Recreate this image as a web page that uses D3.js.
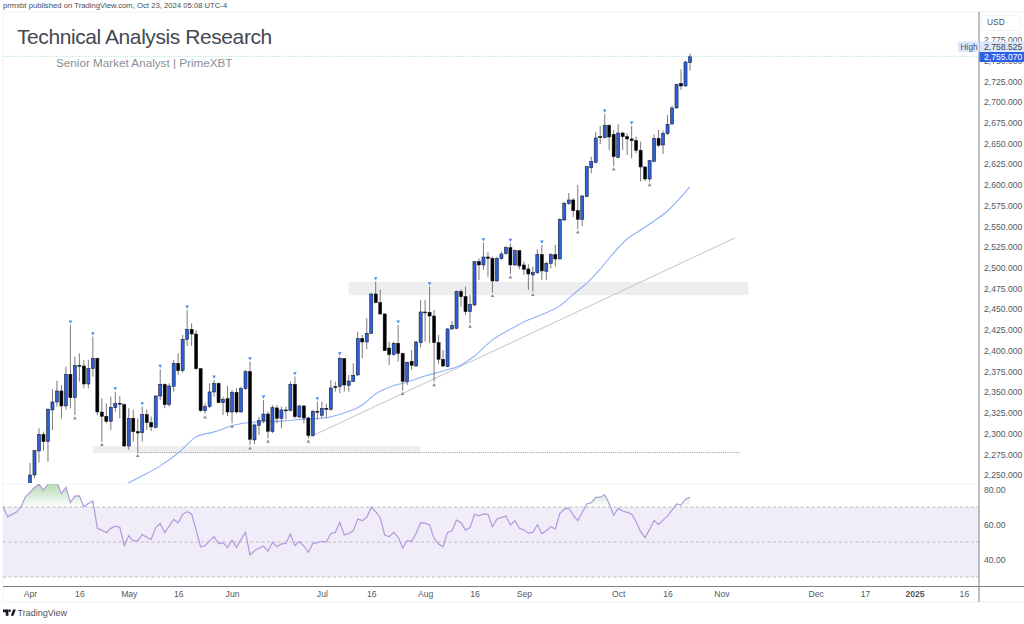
<!DOCTYPE html>
<html>
<head>
<meta charset="utf-8">
<title>Technical Analysis Research</title>
<script src="https://cdn.jsdelivr.net/npm/d3@7/dist/d3.min.js"></script>
<style>
  html, body { margin: 0; padding: 0; background: #fff; }
  svg { display: block; }
  text { font-family: "Liberation Sans", Arial, sans-serif; }
</style>
</head>
<body>
<svg id="chart" width="1024" height="624"></svg>
<script>
// Daily candles, one entry per trading day, bar 0 = 1 Apr 2024.
const opens = [2238,2250,2279,2299,2290.3,2328.5,2338.1,2351.4,2333.3,2371.5,2343.3,2382.3,2381.5,2359.8,2378.3,2390.8,2326,2320.8,2314.8,2331.2,2336.5,2334.9,2285,2318.4,2302.3,2301.1,2322.8,2313.2,2307.5,2345.3,2359.4,2334.9,2357,2384.7,2375.9,2413.7,2425.8,2420.1,2378.3,2327.6,2332.5,2350.2,2360.6,2337.3,2342.1,2326,2349.8,2326,2354.2,2374.7,2292.3,2310,2315.2,2323.6,2302.3,2330.9,2318.4,2328.5,2328.1,2359.4,2320,2333.3,2318.8,2297.5,2326.8,2322,2330.5,2328.9,2356.6,2356.6,2390.4,2358.2,2363,2370.7,2414.5,2410.5,2421,2468.4,2457.9,2444.3,2403.2,2395.6,2408.9,2396.8,2363,2387.2,2381.5,2409.7,2446.7,2446.3,2441.8,2409.7,2389.6,2380.7,2426.2,2427,2471.2,2465.2,2447.1,2455.1,2507.4,2503.4,2513,2511.4,2484.1,2511,2517.1,2524.3,2503.4,2520.7,2503.4,2498.6,2491.3,2494.1,2515.9,2495.7,2505.4,2515.9,2510.6,2557.7,2577.8,2581.8,2568.9,2558.5,2585.8,2620.8,2627.2,2658.2,2657,2671.9,2661,2633.3,2662.6,2658.2,2655.4,2653.4,2641.7,2621.6,2607.1,2628.4,2656.2,2648.1,2661.8,2673.5,2692.8,2722.5,2719.3,2747.5];
const highs = [2264.5,2280,2306.3,2302.3,2330.5,2353.4,2363.8,2358.6,2380.7,2431,2392.8,2396.8,2388.8,2388.8,2416.9,2391.6,2342.5,2336.5,2344.5,2350.6,2345.3,2336.5,2330.5,2328.5,2318.4,2332.5,2328.5,2320.4,2346.5,2377.5,2360.6,2360.6,2388.8,2396.8,2418.9,2449.1,2433,2425,2378.7,2336.5,2360.6,2364.6,2361.4,2344.5,2357.4,2352.6,2354.6,2356.6,2376.7,2386.8,2312.4,2320.4,2340.5,2326.4,2334.5,2334.5,2332.5,2332.5,2362.6,2368.7,2334.5,2334.5,2320.4,2328.5,2338.5,2338.5,2335.7,2364.6,2362.6,2392.8,2390.8,2370.7,2384.7,2423,2418.9,2439,2469.2,2483.3,2474,2445,2410.9,2410.9,2431,2397.6,2386.8,2400.8,2411.7,2461.1,2461.1,2477.2,2449.1,2418.9,2400.8,2427,2435.8,2472.4,2474,2477.2,2467.2,2508.2,2511.4,2530.3,2518.7,2513.4,2513.4,2519.5,2526.3,2529.5,2522.3,2521.5,2507.4,2504.2,2501.4,2522.3,2527.5,2507.4,2517.5,2527.5,2559.7,2579.8,2590.2,2584.2,2599.9,2587.8,2622.8,2634,2664.2,2671,2685.5,2673.1,2666.2,2673.1,2664.2,2662.2,2671,2658.2,2652.2,2622.8,2630,2661,2666.2,2665.4,2684.3,2695.2,2722.1,2739.4,2749.5,2758.525];
const lows = [2230,2246,2264.9,2279.4,2266.1,2304.3,2332.5,2318.4,2328.5,2330.5,2322.4,2362.6,2354.6,2354.6,2368.7,2322.4,2290.3,2312.4,2304.3,2326.4,2318.4,2284.2,2280.2,2290.3,2277,2290.3,2304.3,2303.1,2306.3,2340.5,2330.5,2332.5,2350.6,2370.7,2373.5,2405.7,2405.7,2376.7,2326.4,2323.6,2330.5,2344.5,2336.5,2322.4,2321.2,2312.4,2324.4,2325.2,2352.6,2286.2,2287,2298.3,2312.4,2294.3,2300.3,2312.4,2306.3,2317.2,2326.4,2318.4,2318.4,2312.4,2294.3,2296.3,2316.4,2318.4,2318.4,2327.6,2350.6,2348.6,2350.6,2350.6,2362.6,2369.5,2390.8,2401.6,2420.1,2457.1,2443.1,2400,2382.7,2393.6,2386.8,2351.8,2358.6,2376.7,2380.7,2404.1,2410.9,2408.9,2362.6,2383.9,2380,2380,2424.9,2426.2,2453.1,2443.1,2433,2453.9,2485.3,2497.4,2489.3,2470,2483.3,2509.4,2515.5,2492.5,2502.2,2498.2,2491.3,2473.2,2471.2,2492.5,2485.3,2485.3,2499.4,2501.4,2510.2,2556.5,2575.7,2561.3,2546.8,2550.4,2585,2614,2626,2649.3,2656.2,2642.1,2622.8,2632,2642.1,2636,2632,2638.1,2603.9,2604.7,2603.9,2627.2,2646.1,2637.3,2660.2,2672.3,2692,2714.5,2718.5,2737.8];
const closes = [2250,2279.3,2299.1,2290.3,2329.3,2338.1,2351.4,2333.3,2371.5,2343.3,2382.3,2381.5,2359.8,2378.3,2390.8,2326,2320.8,2314.8,2331.7,2336.5,2335.7,2285,2318.4,2302.3,2300.7,2322.8,2313.2,2308,2345.3,2359.4,2334.9,2357.4,2384.7,2375.9,2413.7,2425.8,2420.1,2378.3,2327.6,2332.5,2350.2,2360.6,2337.3,2341.3,2326,2349.8,2326,2354.2,2374.7,2293.1,2310.4,2315.6,2323.6,2302.7,2331.3,2318.4,2328.5,2327.7,2359.4,2320.4,2333.3,2318.8,2297.5,2326.8,2326,2330.5,2329.3,2355,2355.4,2390.8,2358.6,2363.4,2370.3,2414.5,2410.5,2421,2468.4,2457.9,2444.3,2400,2395.2,2408.9,2396.8,2363,2386,2382.3,2410.5,2446.7,2445.9,2441.8,2409.7,2389.6,2381.5,2426.2,2430.6,2471.2,2465.2,2447.1,2455.9,2507.4,2503.4,2513,2511.4,2484.1,2511.4,2516.7,2524.3,2503.4,2520.7,2502.2,2498.2,2492.5,2494.5,2515.9,2496.2,2505.4,2515.9,2510.6,2558.5,2577.8,2581.8,2568.9,2558.5,2586.6,2622,2628,2656.6,2657,2671.9,2657.8,2634,2662.6,2658.2,2655.4,2653.4,2641.7,2621.6,2607.1,2629.2,2656.2,2647.7,2662.2,2673.1,2692.8,2721.3,2719.3,2748.3,2755.07];

// Pivot flags drawn above highs and below lows, by bar number.
const pivotHighBars = [9,14,19,25,29,35,41,49,52,59,64,69,77,82,89,101,107,114,128,134];
const pivotLowBars = [10,16,24,39,45,49,53,62,83,90,98,103,107,112,122,130,138];

// Moving average, sampled at the listed bars.
const maBars = [21,25,29,33,37,41,46,50,56,60,66,70,74,77,80,84,88,92,96,99,103,107,110,114,118,121,124,127,130,133,136,139,142,145,147];
const maValues = [2238,2249,2261,2276.5,2296,2302,2311,2314,2315,2317,2319,2325,2334.5,2348,2356,2362,2369.5,2375.5,2382.7,2393.6,2413,2426,2434.6,2443.6,2454,2468,2481.6,2498.5,2518,2534.7,2545.6,2556.4,2568.5,2585.4,2598];

// RSI starts six bars before the first visible candle.
const rsiFirstBar = -6;
const rsiValues = [70.1,64.4,65.8,67.1,70.1,75.8,78.3,81.2,83,79.6,83,84,84,77.7,81.2,72.6,76.2,76.4,70.1,72,73.4,57.8,56.8,55.3,57.8,59.1,58.4,47.9,53.6,50.6,50.6,54.3,52.7,51.5,58.2,60.6,55.3,59.1,62.9,61,65.8,67.3,66,56.8,47.3,47.9,50.8,53,48.9,49.6,46.8,51.1,47,51.5,55.5,42.6,45,46.4,47.7,44.7,49.8,47.3,48.9,49.2,54.6,47.9,50.2,47.7,44.1,49.2,49.6,50.4,50,54.9,55.5,61.2,54,54.9,56.4,63.1,62.2,64,69.8,67.3,63.9,54,53,55.5,52.7,46.6,50.8,50.4,54.9,61,60.8,59.7,52.1,48.9,47.3,55.5,56.4,62.5,61,56.8,58.2,65.8,65,66.1,65.8,58.7,63.1,63.9,64.8,59.7,62.2,57.8,56.8,55.1,55.5,59.9,54.8,56.4,58.7,57.4,66.3,68.8,69.4,65.4,62.2,66.9,71.7,72.4,75.5,75.6,77,72,65.2,69.2,67.7,66.9,66,61.6,55.9,52.5,57.2,62.3,60,62.5,64.8,68.2,71.7,71.1,74.5,75.5];

// Drawn levels: supply/demand zones, dotted support and rising trend line.
const zoneBars = [[14,87],[71,160]];
const zonePrices = [[2285,2276.5],[2483,2467]];
const supportBars = [24,158];
const supportPrice = 2277;
const trendBars = [62.4,157];
const trendPrices = [2296,2536];

const lastClose = 2755.07;
const sessionHigh = 2758.525;

const priceTicks = [2250,2275,2300,2325,2350,2375,2400,2425,2450,2475,2500,2525,2550,2575,2600,2625,2650,2675,2700,2725,2750,2775];
const rsiTicks = [80,60,40];
const rsiLevels = [70,50,30];
const timeTickBars = [0,11,22,33,45,65,76,88,99,110,131,142,154,175,186,197,208];
const timeTickLabels = ["Apr","16","May","16","Jun","Jul","16","Aug","16","Sep","Oct","16","Nov","Dec","17","2025","16"];

const pub = "prmxbt published on TradingView.com, Oct 23, 2024 05:08 UTC-4";
const titleText = "Technical Analysis Research";
const subtitleText = "Senior Market Analyst | PrimeXBT";

const paneLeft = 3, axisX = 979, pageRight = 1024;
const paneTop = 12, priceBottom = 484, timeLineY = 586.5, frameBottom = 602;

const x = d3.scaleLinear().domain([0, 147]).range([30, 690]);
const y = d3.scaleLinear().domain([2250, 2700]).range([475, 102]);
const yRsi = d3.scaleLinear().domain([30, 70]).range([577, 507]);

const svg = d3.select("#chart");
const defs = svg.append("defs");
defs.append("clipPath").attr("id", "priceClip").append("rect")
  .attr("x", paneLeft).attr("y", paneTop).attr("width", axisX - paneLeft).attr("height", priceBottom - paneTop - 1);
defs.append("clipPath").attr("id", "rsiClip").append("rect")
  .attr("x", paneLeft).attr("y", priceBottom).attr("width", axisX - paneLeft).attr("height", timeLineY - priceBottom);
defs.append("clipPath").attr("id", "overClip").append("rect")
  .attr("x", paneLeft).attr("y", priceBottom).attr("width", axisX - paneLeft).attr("height", yRsi(70) - priceBottom);
// Overbought fill fades with height inside the pane, so lower peaks stay faint.
const grad = defs.append("linearGradient").attr("id", "overFill")
  .attr("gradientUnits", "userSpaceOnUse")
  .attr("x1", 0).attr("x2", 0).attr("y1", priceBottom).attr("y2", yRsi(70));
grad.append("stop").attr("offset", 0).attr("stop-color", "#8cc98f").attr("stop-opacity", 0.65);
grad.append("stop").attr("offset", 1).attr("stop-color", "#8cc98f").attr("stop-opacity", 0.02);

// Publisher line and frame
svg.append("text").attr("x", 3).attr("y", 8).attr("font-size", 7.7).attr("fill", "#4a4d57").text(pub);

const frame = svg.append("g").attr("stroke", "#f0f3fa").attr("stroke-width", 1);
frame.append("line").attr("x1", paneLeft).attr("x2", pageRight).attr("y1", paneTop).attr("y2", paneTop);
frame.append("line").attr("x1", paneLeft).attr("x2", paneLeft).attr("y1", paneTop).attr("y2", frameBottom);
frame.append("line").attr("x1", paneLeft).attr("x2", axisX).attr("y1", priceBottom).attr("y2", priceBottom);
frame.append("line").attr("x1", paneLeft).attr("x2", pageRight).attr("y1", frameBottom).attr("y2", frameBottom);

// Price pane
const price = svg.append("g").attr("clip-path", "url(#priceClip)");

price.selectAll("rect.zone").data(zoneBars).join("rect").attr("class", "zone")
  .attr("x", d => x(d[0])).attr("width", d => x(d[1]) - x(d[0]))
  .attr("y", (d, i) => y(zonePrices[i][0]))
  .attr("height", (d, i) => y(zonePrices[i][1]) - y(zonePrices[i][0]))
  .attr("fill", "#eeeef0");

price.append("line")
  .attr("x1", x(supportBars[0])).attr("x2", x(supportBars[1]))
  .attr("y1", y(supportPrice)).attr("y2", y(supportPrice))
  .attr("stroke", "#8a8a8a").attr("stroke-width", 0.9).attr("stroke-dasharray", "1 1.2");

price.append("line")
  .attr("x1", x(trendBars[0])).attr("x2", x(trendBars[1]))
  .attr("y1", y(trendPrices[0])).attr("y2", y(trendPrices[1]))
  .attr("stroke", "#bdbdbd").attr("stroke-width", 0.9);

const maLine = d3.line().x((d, i) => x(maBars[i])).y(d => y(d)).curve(d3.curveMonotoneX);
price.append("path").attr("d", maLine(maValues))
  .attr("fill", "none").attr("stroke", "#8fb0f8").attr("stroke-width", 1.1);

svg.append("line").attr("x1", paneLeft).attr("x2", axisX)
  .attr("y1", y(lastClose)).attr("y2", y(lastClose))
  .attr("stroke", "#9fd8d0").attr("stroke-width", 0.9).attr("stroke-dasharray", "1 1.3");

const candles = price.selectAll("g.candle").data(d3.range(opens.length)).join("g").attr("class", "candle");
candles.append("line")
  .attr("x1", i => x(i)).attr("x2", i => x(i))
  .attr("y1", i => y(highs[i])).attr("y2", i => y(lows[i]))
  .attr("stroke", "#6b6b70").attr("stroke-width", 0.9);
candles.append("rect")
  .attr("x", i => x(i) - 1.55).attr("width", 3.1)
  .attr("y", i => y(Math.max(opens[i], closes[i])))
  .attr("height", i => Math.max(0.9, Math.abs(y(opens[i]) - y(closes[i]))))
  .attr("fill", i => closes[i] >= opens[i] ? "#2e5fd8" : "#000")
  .attr("stroke", "#10131c").attr("stroke-width", 0.5);

const tri = d3.symbol().type(d3.symbolTriangle).size(6);
price.selectAll("path.pivotHigh").data(pivotHighBars).join("path").attr("class", "pivotHigh")
  .attr("d", tri)
  .attr("transform", i => `translate(${x(i)},${y(highs[i]) - 3.4}) rotate(180)`)
  .attr("fill", "#4f86f7");
price.selectAll("path.pivotLow").data(pivotLowBars).join("path").attr("class", "pivotLow")
  .attr("d", tri)
  .attr("transform", i => `translate(${x(i)},${y(lows[i]) + 3.4})`)
  .attr("fill", "#8d8d92");

// RSI pane
svg.append("rect")
  .attr("x", paneLeft).attr("width", axisX - paneLeft)
  .attr("y", yRsi(70)).attr("height", yRsi(30) - yRsi(70))
  .attr("fill", "#f0edf8");

const rsiX = (d, i) => x(rsiFirstBar + i);
svg.append("path").attr("clip-path", "url(#overClip)")
  .attr("d", d3.area().x(rsiX).y0(yRsi(70)).y1(d => yRsi(d))(rsiValues))
  .attr("fill", "url(#overFill)");

svg.append("g").selectAll("line").data(rsiLevels).join("line")
  .attr("x1", paneLeft).attr("x2", axisX)
  .attr("y1", d => yRsi(d)).attr("y2", d => yRsi(d))
  .attr("stroke", "#b9b7c2").attr("stroke-width", 0.9).attr("stroke-dasharray", "3 2.5");

svg.append("path").attr("clip-path", "url(#rsiClip)")
  .attr("d", d3.line().x(rsiX).y(d => yRsi(d))(rsiValues))
  .attr("fill", "none").attr("stroke", "#b09bdc").attr("stroke-width", 1.2);

// Axes
svg.append("line").attr("x1", paneLeft).attr("x2", pageRight).attr("y1", timeLineY).attr("y2", timeLineY)
  .attr("stroke", "#7d7f88").attr("stroke-width", 1);
svg.append("line").attr("x1", axisX).attr("x2", axisX).attr("y1", paneTop).attr("y2", frameBottom)
  .attr("stroke", "#7d7f88").attr("stroke-width", 1);

function styleAxis(g) {
  g.select(".domain").remove();
  g.selectAll("line").remove();
  g.selectAll("text").attr("font-size", 8.6).attr("fill", "#555862")
    .attr("font-family", '"Liberation Sans", Arial, sans-serif');
}

svg.append("g").attr("transform", `translate(${axisX},0)`)
  .call(d3.axisRight(y).tickValues(priceTicks).tickFormat(d3.format(",.3f")).tickSize(0).tickPadding(5))
  .call(styleAxis);

svg.append("g").attr("transform", `translate(${axisX},0)`)
  .call(d3.axisRight(yRsi).tickValues(rsiTicks).tickFormat(d3.format(".2f")).tickSize(0).tickPadding(5))
  .call(styleAxis);

const timeAxis = svg.append("g").attr("transform", `translate(0,${timeLineY})`)
  .call(d3.axisBottom(x).tickValues(timeTickBars).tickFormat((d, i) => timeTickLabels[i]).tickSize(0).tickPadding(4.5))
  .call(styleAxis);
timeAxis.selectAll("text").filter(d => d === 197).attr("font-weight", "bold");

// Currency box and the last-price tags
svg.append("rect").attr("x", 981.5).attr("y", 15.5).attr("width", 39).attr("height", 15).attr("rx", 3)
  .attr("fill", "#fff").attr("stroke", "#eef0f4");
svg.append("text").attr("x", 987).attr("y", 25).attr("font-size", 8.4).attr("fill", "#50535e").text("USD");

svg.append("rect").attr("x", 958).attr("y", 41.5).attr("width", 21).attr("height", 10.5).attr("fill", "#dbe7fb");
svg.append("text").attr("x", 960.5).attr("y", 49.6).attr("font-size", 8.4).attr("fill", "#50535e").text("High");
svg.append("rect").attr("x", 980).attr("y", 41.5).attr("width", 44).attr("height", 10.5).attr("fill", "#dbe7fb");
svg.append("text").attr("x", 984).attr("y", 49.8).attr("font-size", 8.6).attr("fill", "#3d4048").text(d3.format(",.3f")(sessionHigh));
svg.append("rect").attr("x", 979.5).attr("y", 52).attr("width", 44.5).attr("height", 10).attr("fill", "#2f5fe6");
svg.append("text").attr("x", 984).attr("y", 60).attr("font-size", 8.6).attr("fill", "#fff").text(d3.format(",.3f")(lastClose));

// Title block
svg.append("text").attr("x", 17).attr("y", 44).attr("font-size", 21).attr("letter-spacing", -0.42).attr("fill", "#454852").text(titleText);
svg.append("text").attr("x", 56).attr("y", 67).attr("font-size", 11.7).attr("fill", "#8c8f98").text(subtitleText);

// Footer mark
const mark = svg.append("g").attr("fill", "#131722");
mark.append("path").attr("d", "M3 609.5h5.4v6.2h-2.7v-3.5H3z");
mark.append("circle").attr("cx", 9.6).attr("cy", 610.8).attr("r", 1.3);
mark.append("path").attr("d", "M10.8 615.7l2.3-6.2h2.7l-2.4 6.2z");
svg.append("text").attr("x", 17.5).attr("y", 616).attr("font-size", 9).attr("fill", "#50535e").text("TradingView");
</script>
</body>
</html>
